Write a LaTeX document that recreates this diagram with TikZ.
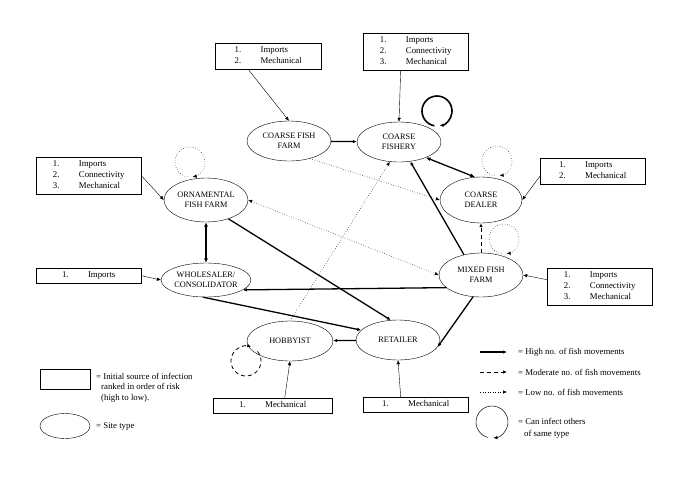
\documentclass[tikz,border=0pt]{standalone}
\usepackage{fontspec}
\setmainfont{Liberation Serif}
\usetikzlibrary{arrows.meta,shapes.geometric}
\begin{document}
\begin{tikzpicture}[x=1pt,y=-1pt,
  site/.style={draw,ellipse,minimum width=84pt,minimum height=40pt,inner sep=0pt,align=center,font=\fontsize{8.3}{10}\selectfont},
  src/.style={draw,font=\fontsize{8.8}{11}\selectfont,inner sep=2pt,anchor=north west,align=left},
  tip/.style={-{Latex[length=4pt,width=3.5pt]}},
  hi/.style={tip,line width=1.3pt},
  hib/.style={{Latex[length=4.5pt,width=4pt]}-{Latex[length=4.5pt,width=4pt]},line width=1.3pt},
  lob/.style={{Latex[length=4pt,width=3.5pt]}-{Latex[length=4pt,width=3.5pt]},line width=0.5pt,dotted},
  mod/.style={tip,line width=1pt,dash pattern=on 4pt off 3pt},
  lo/.style={tip,line width=0.5pt,dotted},
  thin/.style={tip,line width=0.4pt},
  lbl/.style={font=\fontsize{8.8}{10.5}\selectfont,anchor=west,align=left,inner sep=0pt}]
\useasboundingbox (0,0) rectangle (685,480);
% sites
\node[site] (cff) at (289,141) {COARSE FISH\\FARM};
\node[site] (cf) at (399,142) {COARSE\\FISHERY};
\node[site,minimum height=46pt,minimum width=82pt] (cd) at (481,200) {COARSE\\DEALER};
\node[site,minimum height=44pt] (off) at (206,200) {ORNAMENTAL\\FISH FARM};
\node[site,minimum height=34pt] (ws) at (206,280) {WHOLESALER/\\CONSOLIDATOR};
\node[site,minimum width=86pt] (hb) at (290,341) {HOBBYIST};
\node[site] (rt) at (398,340) {RETAILER};
\node[site,minimum height=44pt] (mf) at (481,275) {MIXED FISH\\FARM};
% source boxes
\newcommand{\lst}[1]{\begin{tabular}{@{}p{26pt}@{}l@{}}#1\end{tabular}}
\node[src,minimum width=106pt] (bcff) at (215,43) {\lst{1.&Imports\\2.&Mechanical}};
\node[src,minimum width=105pt] (bcf) at (363,33) {\lst{1.&Imports\\2.&Connectivity\\3.&Mechanical}};
\node[src,minimum width=105pt] (boff) at (36,157) {\lst{1.&Imports\\2.&Connectivity\\3.&Mechanical}};
\node[src,minimum width=105pt] (bcd) at (540,158) {\lst{1.&Imports\\2.&Mechanical}};
\node[src,minimum width=105pt] (bws) at (36,268) {\lst{1.&Imports}};
\node[src,minimum width=105pt] (bmf) at (547,268) {\lst{1.&Imports\\2.&Connectivity\\3.&Mechanical}};
\node[src,minimum width=119pt] (bhb) at (213,398) {\lst{1.&Mechanical}};
\node[src,minimum width=105pt] (brt) at (363,397) {\lst{1.&Mechanical}};
\draw[thin] (bcff.south) ++(-20,0) coordinate (a1) -- (cff.north);
\draw[thin] (bcf.south) ++(-15,0) coordinate (a2) -- (cf.north);
\draw[thin] (boff.east) -- (off.west);
\draw[thin] (bcd.west) ++(0,5) coordinate (a3) -- (cd.east);
\draw[thin] (bws.east) -- (ws.west);
\draw[thin] (bmf.west) ++(0,-7) coordinate (a4) -- (mf.east);
\draw[thin] (bhb.north) ++(12,0) coordinate (a5) -- (hb.south);
\draw[thin] (brt.north) ++(-15,0) coordinate (a6) -- (rt.south);
% movements
\draw[hi] (cff) -- (cf);
\draw[hib] (cf.-30) -- (cd.105);
\draw[lo] (cff.-40) -- (cd.west);
\draw[lob] (off.east) -- (mf.west);
\draw[lo] (hb.north) -- (cf.-115);
\draw[hi] (mf.130) -- (cf.-60);
\draw[mod] (mf.north) -- (cd.south);
\draw[hib] (off.south) -- (ws.north);
\draw[hi] (off.-40) -- (rt.110);
\draw[hi] (mf.-160) -- (ws.-15);
\draw[hi] (ws.-100) -- (rt.165);
\draw[hi] (mf.-110) -- (rt.-10);
\draw[hi] (rt) -- (hb);
% loops (y axis points down: angle 90 is the bottom)
\coordinate (lcf) at (437,111);
\coordinate (lcd) at (497,161);
\coordinate (loff) at (190,162);
\coordinate (lmf) at (504,239);
\coordinate (lhb) at (246,361);
\draw[tip,line width=1.6pt] (lcf) ++(100:15) arc[start angle=100,end angle=440,radius=15];
\draw[lo] (lcd) ++(100:15) arc[start angle=100,end angle=440,radius=15];
\draw[lo] (loff) ++(100:15) arc[start angle=100,end angle=440,radius=15];
\draw[lo] (lmf) ++(100:15) arc[start angle=100,end angle=440,radius=15];
\draw[mod,line width=0.8pt] (lhb) ++(-40:15) arc[start angle=-40,end angle=290,radius=15];
% legend
\node[draw,minimum width=50pt,minimum height=20pt,inner sep=0pt] (lbox) at (65,379) {};
\node[lbl,anchor=north west] (lt1) at (96,373) {= Initial source of infection\\\hspace*{5pt}ranked in order of risk\\\hspace*{5pt}(high to low).};
\node[draw,ellipse,minimum width=50pt,minimum height=25pt,inner sep=0pt] (lell) at (65,426) {};
\node[lbl] (lt2) at (96,427) {= Site type};
\coordinate (h1) at (480,352); \coordinate (h2) at (507,352);
\coordinate (m1) at (480,372); \coordinate (m2) at (507,372);
\coordinate (l1) at (480,392); \coordinate (l2) at (507,392);
\draw[hi] (h1) -- (h2); \draw[mod] (m1) -- (m2); \draw[lo] (l1) -- (l2);
\node[lbl] (lh) at (518,352) {= High no. of fish movements};
\node[lbl] (lm) at (518,372) {= Moderate no. of fish movements};
\node[lbl] (ll) at (518,392) {= Low no. of fish movements};
\coordinate (c0) at (492,422);
\draw[tip,line width=0.5pt] (c0) ++(105:16) arc[start angle=105,end angle=445,radius=16];
\node[lbl] (lc1) at (518,421) {= Can infect others};
\node[lbl] (lc2) at (524,434) {of same type};
\end{tikzpicture}
\end{document}
